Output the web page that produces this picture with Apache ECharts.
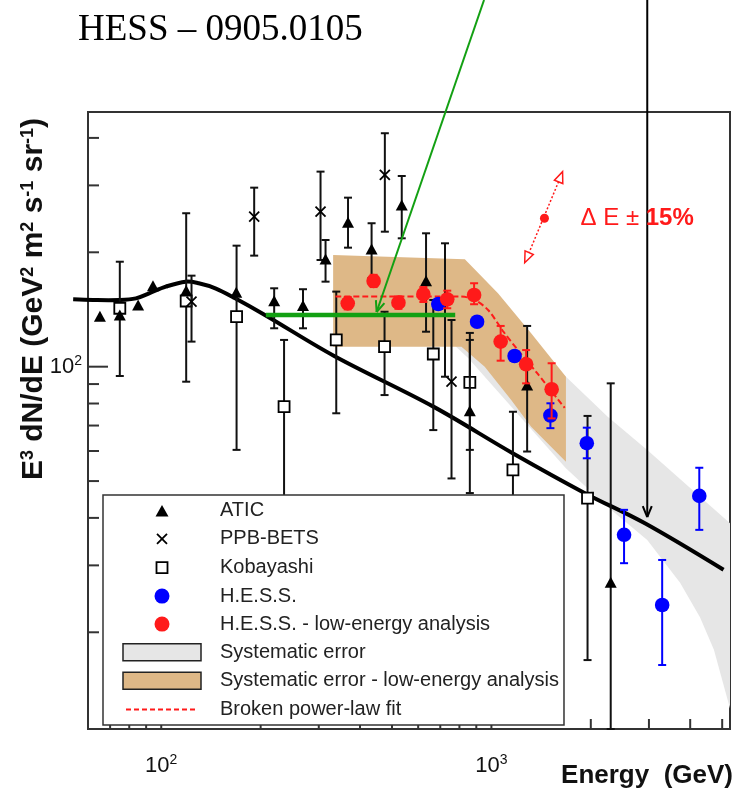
<!DOCTYPE html>
<html>
<head>
<meta charset="utf-8">
<script src="https://cdn.jsdelivr.net/npm/echarts@6/dist/echarts.min.js"></script>
<style>html,body{margin:0;padding:0;background:#fff}#c{width:742px;height:789px}</style>
</head>
<body>
<div id="c"></div>
<script>
// ---------------- data (E [GeV], E^3 dN/dE, low, high) ----------------
const atic = [
  [65.2,134.9,134.9,134.9],[74.9,135.9,135.9,135.9],[85.1,144.4,144.4,144.4],[94.4,162.4,162.4,162.4],
  [119.0,157.6,157.6,157.6],[168.7,156.1,156.1,156.1],[219.8,148.3,126.2,160.8],[268.7,143.9,126.2,159.9],
  [314.5,190.9,167.4,215.5],[367.9,238.5,205.7,278.5],[433.6,202.8,171.2,238.5],[535.1,264.8,217.7,317.6],
  [633.9,167.4,123.6,224.4],[723.4,149.8,94.1,211.2],[860.3,76.1,60.4,122.7],[1283,89.0,59.8,128.0],
  [2298,26.9,11.13,90.4]
];
const ppbBets = [
  [123.5,148.3,116.4,173.6],[191.2,248.2,196.0,295.9],[303.7,255.9,190.9,326.1],
  [475.6,319.6,226.6,411.5],[757.1,91.3,50.8,132.7]
];
const kobayashi = [
  [74.9,142.5,94.5,188.9],[119.0,148.9,91.3,253.4],[169.1,135.4,60.4,208.2],[235.5,78.5,39.5,117.6],
  [338.9,117.6,75.4,157.6],[474.6,112.9,84.2,139.5],[666.8,108.0,68.1,149.8],[860.3,90.9,46.5,117.6],
  [1162,53.5,37.2,76.1],[1955,45.1,16.9,74.2]
];
const hess = [
  [690.5,146.2,146.2,146.2],[904.8,131.3,131.3,131.3],[1175.5,106.7,106.7,106.7],[1509,74.4,68.9,80.1],
  [1945,62.9,57.4,69.1],[2522,36.1,30.4,42.0],[3290,23.6,16.4,31.0],[4262,45.7,37.2,54.2]
];
const hessLow = [
  [367.1,146.8,141.5,152.5],[439.8,168.1,162,174.5],[522.9,147.4,142,153],[622.1,155.1,148,162],
  [734.9,150.4,142.5,158.5],[886.3,154.4,146.0,165.8],[1066.6,116.4,103.7,128.0],[1274,101.5,90.4,110.6],
  [1522,87.2,73.1,102.1]
];
const brokenFit = [[337,153],[793,153],[880,150.7],[977,141],[1084,124.1],[1203,110.6],[1382,95.7],[1667,77.9]];
const sysLowUpper = [[331.6,196.8],[830.9,191.7],[1046.9,156.1],[1319.3,122.4],[1681.6,94.1]];
const sysLowLower = [[331.6,112.9],[811.6,112.9],[954.5,100],[1148,81.7],[1319.3,69.5],[1681.6,56.2]];
const sysUpper = [[776.9,173.3],[1681.6,94.1],[2246,73.9],[2965,60.4],[5280,38.7]];
const sysLower = [[776.9,113.4],[850.2,105.4],[1678.5,54.1],[2246,42.8],[2965,35.0],[3728,27.0],[4283,21.9],[4720,18.0],[5280,12.6]];
const modelCurve = [[54.1,150.4],[62.1,149.8],[74.6,149.8],[83.8,151.3],[91.9,156],[103.2,162.4],[118.5,167.4],
  [129.9,165.8],[145.8,160.8],[167.4,151.4],[206,136.8],[334,106.7],[667,78.5],[1160,59.2],[1926,46.4],[2917,38.7],[5047,29.2]];
const greenBar = [[207.4,136.8],[776.9,136.8]];
const greenArrow = [[950,922.6],[449,139.3]];
const blackArrow = [[2965,922.6],[2965,40.2]];
const deltaE = {lo:[1283,194.1], mid:[1447.6,245.8], hi:[1618,315.1], label:[1862,245.8]};
const xTickValues = [70,80,90,100,200,300,400,500,600,700,800,900,1000,2000,3000,4000,5000];
const xMajorTicks = [100,1000];
const yTickValues = [20,30,40,50,60,70,80,90,100,200,300,400];
const yMajorTicks = [100];
const labelPowers = [2,3];

// ---------------- chart ----------------
const X_MIN = 60, X_MAX = 5280, Y_MIN = 11.13, Y_MAX = 468;
const FONT = "'Liberation Sans', Arial, Helvetica, sans-serif";
const RED = '#ff1a1a', BLUE = '#0000ff';

function powLabel(v) {
  const l = Math.log10(v), r = Math.round(l);
  if (Math.abs(l - r) < 1e-6 && labelPowers.indexOf(r) >= 0) return '{b|10}{s|' + r + '}';
  return '';
}
const labelRich = {
  b: {fontSize: 22, fontFamily: FONT, color: '#111', lineHeight: 26},
  s: {fontSize: 14, fontFamily: FONT, color: '#111', verticalAlign: 'top'}
};

function marker(kind, p, color) {
  const x = p[0], y = p[1];
  if (kind === 'triangle') return {type: 'polygon', shape: {points: [[x, y - 6.5], [x + 6, y + 4.5], [x - 6, y + 4.5]]}, style: {fill: '#000'}};
  if (kind === 'cross') return {type: 'group', children: [
    {type: 'line', shape: {x1: x - 5, y1: y - 5, x2: x + 5, y2: y + 5}, style: {stroke: '#000', lineWidth: 1.8}},
    {type: 'line', shape: {x1: x + 5, y1: y - 5, x2: x - 5, y2: y + 5}, style: {stroke: '#000', lineWidth: 1.8}}]};
  if (kind === 'square') return {type: 'rect', shape: {x: x - 5.5, y: y - 5.5, width: 11, height: 11}, style: {fill: '#fff', stroke: '#000', lineWidth: 1.8}};
  return {type: 'circle', shape: {cx: x, cy: y, r: 7.3}, style: {fill: color}};
}

function pointSeries(name, data, kind, color, z) {
  return {
    name, type: 'custom', data, z, clip: false, silent: true,
    itemStyle: {color}, encode: {x: 0, y: 1},
    renderItem: function (params, api) {
      const x = api.value(0);
      const p = api.coord([x, api.value(1)]);
      const pl = api.coord([x, api.value(2)]);
      const ph = api.coord([x, api.value(3)]);
      const bc = kind === 'circle' ? color : '#111';
      const ch = [];
      if (pl[1] - ph[1] > 2) {
        ch.push({type: 'line', shape: {x1: p[0], y1: ph[1], x2: p[0], y2: pl[1]}, style: {stroke: bc, lineWidth: 2}});
        ch.push({type: 'line', shape: {x1: p[0] - 4, y1: ph[1], x2: p[0] + 4, y2: ph[1]}, style: {stroke: bc, lineWidth: 2}});
        ch.push({type: 'line', shape: {x1: p[0] - 4, y1: pl[1], x2: p[0] + 4, y2: pl[1]}, style: {stroke: bc, lineWidth: 2}});
      }
      ch.push(marker(kind, p, color));
      return {type: 'group', children: ch};
    }
  };
}

function bandSeries(name, upper, lower, color, z) {
  return {
    name, type: 'custom', z, clip: false, silent: true, itemStyle: {color},
    data: [upper[0]], encode: {x: 0, y: 1},
    renderItem: function (params, api) {
      const pts = upper.map(d => api.coord(d)).concat(lower.slice().reverse().map(d => api.coord(d)));
      return {type: 'polygon', shape: {points: pts}, style: {fill: color}};
    }
  };
}

function curveSeries(name, pts, color, width, z) {
  return {
    name, type: 'custom', z, clip: false, silent: true, itemStyle: {color},
    data: [pts[0]], encode: {x: 0, y: 1},
    renderItem: function (params, api) {
      return {type: 'polyline', shape: {points: pts.map(d => api.coord(d)), smooth: 0.35},
        style: {stroke: color, lineWidth: width, fill: null, lineJoin: 'round'}};
    }
  };
}

function tickSeries(axis) {
  const vals = axis === 'x' ? xTickValues.map(v => [v, Y_MIN]) : yTickValues.map(v => [X_MIN, v]);
  return {
    type: 'custom', z: 3, clip: false, silent: true, data: vals, encode: {x: 0, y: 1},
    renderItem: function (params, api) {
      const p = api.coord([api.value(0), api.value(1)]);
      if (axis === 'x') {
        const len = xMajorTicks.indexOf(api.value(0)) >= 0 ? 14 : 10;
        return {type: 'line', shape: {x1: p[0], y1: p[1], x2: p[0], y2: p[1] - len}, style: {stroke: '#333', lineWidth: 2}};
      }
      const len = yMajorTicks.indexOf(api.value(1)) >= 0 ? 20 : 11;
      return {type: 'line', shape: {x1: p[0], y1: p[1], x2: p[0] + len, y2: p[1]}, style: {stroke: '#333', lineWidth: 2}};
    }
  };
}

function openHead(p0, p1, color, w) {
  const dx = p1[0] - p0[0], dy = p1[1] - p0[1], L = Math.hypot(dx, dy);
  const ux = dx / L, uy = dy / L, bx = p1[0] - ux * 11, by = p1[1] - uy * 11;
  const px = -uy * 4.5, py = ux * 4.5;
  return [
    {type: 'line', shape: {x1: p1[0], y1: p1[1], x2: bx + px, y2: by + py}, style: {stroke: color, lineWidth: w}},
    {type: 'line', shape: {x1: p1[0], y1: p1[1], x2: bx - px, y2: by - py}, style: {stroke: color, lineWidth: w}}
  ];
}
function triHead(from, at, color) {
  const dx = at[0] - from[0], dy = at[1] - from[1], L = Math.hypot(dx, dy);
  const ux = dx / L, uy = dy / L, px = -uy * 4.5, py = ux * 4.5;
  const tip = [at[0] + ux * 6, at[1] + uy * 6], b = [at[0] - ux * 5, at[1] - uy * 5];
  return {type: 'polygon', shape: {points: [tip, [b[0] + px, b[1] + py], [b[0] - px, b[1] - py]]},
    style: {fill: '#fff', stroke: color, lineWidth: 1.5}};
}

const annotations = {
  type: 'custom', z: 9, clip: false, silent: true, data: [greenArrow[1]], encode: {x: 0, y: 1},
  renderItem: function (params, api) {
    const ch = [];
    const g0 = api.coord(greenArrow[0]), g1 = api.coord(greenArrow[1]);
    ch.push({type: 'line', shape: {x1: g0[0], y1: g0[1], x2: g1[0], y2: g1[1]}, style: {stroke: '#13a013', lineWidth: 2}});
    openHead(g0, g1, '#13a013', 2).forEach(e => ch.push(e));
    const b0 = api.coord(blackArrow[0]), b1 = api.coord(blackArrow[1]);
    ch.push({type: 'line', shape: {x1: b0[0], y1: b0[1], x2: b1[0], y2: b1[1]}, style: {stroke: '#000', lineWidth: 2}});
    openHead(b0, b1, '#000', 2).forEach(e => ch.push(e));
    const lo = api.coord(deltaE.lo), mid = api.coord(deltaE.mid), hi = api.coord(deltaE.hi);
    ch.push({type: 'line', shape: {x1: lo[0], y1: lo[1], x2: hi[0], y2: hi[1]}, style: {stroke: RED, lineWidth: 1.5, lineDash: [2, 2]}});
    ch.push(triHead(mid, hi, RED));
    ch.push(triHead(mid, lo, RED));
    ch.push({type: 'circle', shape: {cx: mid[0], cy: mid[1], r: 4.5}, style: {fill: RED}});
    const t = api.coord(deltaE.label);
    ch.push({type: 'text', x: t[0], y: t[1], style: {
      text: '{a|Δ E ±} {b|15%}', align: 'left', verticalAlign: 'middle', textAlign: 'left', textVerticalAlign: 'middle',
      fill: RED, fontSize: 24, fontFamily: FONT,
      rich: {a: {fontSize: 24, fontFamily: FONT, fill: RED, color: RED},
             b: {fontSize: 24, fontWeight: 'bold', fontFamily: FONT, fill: RED, color: RED}}}});
    return {type: 'group', children: ch};
  }
};

const BOX = 'M0,0M93,19';
const CIRC = 'path://' + BOX + 'M32.5,9.5A7.5,7.5,0,1,0,47.5,9.5A7.5,7.5,0,1,0,32.5,9.5Z';
const RECT = 'path://' + BOX + 'M1,1L79,1L79,18L1,18Z';

const option = {
  animation: false,
  backgroundColor: '#fff',
  title: {text: 'HESS – 0905.0105', left: 78, top: 12, padding: 0,
    textStyle: {fontFamily: "'Liberation Serif','Times New Roman',serif", fontSize: 37, fontWeight: 'normal', color: '#000'}},
  grid: {left: 88, right: 12, top: 112, bottom: 60, show: true, borderColor: '#333', borderWidth: 2,
    backgroundColor: 'rgba(0,0,0,0)', containLabel: false, outerBoundsMode: 'none'},
  xAxis: {type: 'log', logBase: 10, min: X_MIN, max: X_MAX,
    axisLine: {show: false}, axisTick: {show: false}, splitLine: {show: false}, minorTick: {show: false},
    axisLabel: {formatter: powLabel, rich: labelRich, margin: 24, color: '#111'}},
  yAxis: {type: 'log', logBase: 10, min: Y_MIN, max: Y_MAX,
    axisLine: {show: false}, axisTick: {show: false}, splitLine: {show: false}, minorTick: {show: false},
    axisLabel: {formatter: powLabel, rich: labelRich, margin: 6, color: '#111'}},
  legend: {
    orient: 'vertical', left: 103, top: 495, z: 20,
    padding: [5.5, 5, 5, 18], itemWidth: 93, itemHeight: 19, itemGap: 8,
    backgroundColor: '#fff', borderColor: '#333', borderWidth: 1.5, borderRadius: 0,
    textStyle: {fontFamily: FONT, fontSize: 20, color: '#222'},
    selectedMode: false,
    data: [
      {name: 'ATIC', icon: 'path://' + BOX + 'M33.5,15.5L46.5,15.5L40,4Z', itemStyle: {color: '#000', borderWidth: 0}},
      {name: 'PPB-BETS', icon: 'path://' + BOX + 'M35,4.5L45,14.5M45,4.5L35,14.5', itemStyle: {color: 'transparent', borderColor: '#000', borderWidth: 1.8}},
      {name: 'Kobayashi', icon: 'path://' + BOX + 'M34.5,4L45.5,4L45.5,15L34.5,15Z', itemStyle: {color: '#fff', borderColor: '#000', borderWidth: 1.8}},
      {name: 'H.E.S.S.', icon: CIRC, itemStyle: {color: BLUE, borderWidth: 0}},
      {name: 'H.E.S.S. - low-energy analysis', icon: CIRC, itemStyle: {color: RED, borderWidth: 0}},
      {name: 'Systematic error', icon: RECT, itemStyle: {color: '#e6e6e6', borderColor: '#222', borderWidth: 1.5}},
      {name: 'Systematic error - low-energy analysis', icon: RECT, itemStyle: {color: '#deb887', borderColor: '#222', borderWidth: 1.5}},
      {name: 'Broken power-law fit', icon: 'path://' + BOX + 'M4,9.5L76,9.5', itemStyle: {color: 'transparent', borderColor: RED, borderWidth: 2, borderType: [5, 3]}}
    ]
  },
  graphic: [
    {type: 'text', x: 34, y: 299, rotation: Math.PI / 2, z: 10, style: {
      text: 'E{s|3} dN/dE (GeV{s|2} m{s|2} s{s|-1} sr{s|-1})',
      fontSize: 30, fontWeight: 'bold', fontFamily: FONT, fill: '#111',
      align: 'center', verticalAlign: 'middle', textAlign: 'center', textVerticalAlign: 'middle',
      rich: {s: {fontSize: 18, fontWeight: 'bold', fontFamily: FONT, fill: '#111', color: '#111', verticalAlign: 'top'}}}},
    {type: 'text', x: 733, y: 776, z: 10, style: {
      text: 'Energy  (GeV)', fontSize: 26, fontWeight: 'bold', fontFamily: FONT, fill: '#111',
      align: 'right', verticalAlign: 'middle', textAlign: 'right', textVerticalAlign: 'middle'}}
  ],
  series: [
    bandSeries('Systematic error', sysUpper, sysLower, '#e6e6e6', 1),
    bandSeries('Systematic error - low-energy analysis', sysLowUpper, sysLowLower, '#deb887', 2),
    tickSeries('x'), tickSeries('y'),
    curveSeries('model', modelCurve, '#000', 4, 3),
    pointSeries('Kobayashi', kobayashi, 'square', '#000', 4),
    pointSeries('PPB-BETS', ppbBets, 'cross', '#000', 4),
    pointSeries('ATIC', atic, 'triangle', '#000', 4),
    {type: 'line', name: 'Broken power-law fit', data: brokenFit, smooth: 0.3, showSymbol: false, clip: false, silent: true, z: 5,
      itemStyle: {color: RED}, lineStyle: {color: RED, width: 2, type: [6, 3]}},
    pointSeries('H.E.S.S.', hess, 'circle', BLUE, 6),
    pointSeries('H.E.S.S. - low-energy analysis', hessLow, 'circle', RED, 7),
    {type: 'line', name: 'green', data: greenBar, showSymbol: false, clip: false, silent: true, z: 8,
      lineStyle: {color: '#13a013', width: 4.5}},
    annotations
  ]
};
const chart = echarts.init(document.getElementById('c'), null, {renderer: 'canvas'});
chart.setOption(option);
</script>
</body>
</html>
